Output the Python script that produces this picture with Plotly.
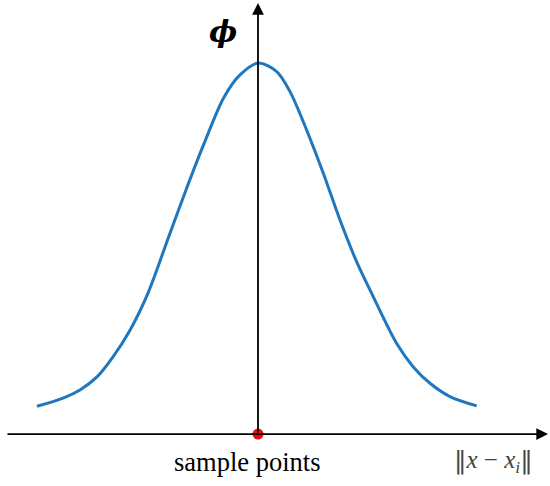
import plotly.graph_objects as go

# curve (distance, phi)
dist = [-2.21, -1.95, -1.78, -1.61, -1.45, -1.28, -1.10, -0.89, -0.72, -0.55, -0.34, -0.18, 0.0,
        0.187, 0.32, 0.487, 0.653, 0.82, 0.987, 1.153, 1.387, 1.553, 1.72, 1.92, 2.187]
phi = [0.075, 0.097, 0.119, 0.154, 0.208, 0.280, 0.380, 0.534, 0.658, 0.776, 0.908, 0.968, 1.000,
       0.977, 0.923, 0.819, 0.703, 0.577, 0.464, 0.370, 0.244, 0.181, 0.137, 0.101, 0.076]

sample_x = [0.0]
sample_y = [0.0]

fig = go.Figure()
fig.add_trace(go.Scatter(x=dist, y=phi, mode='lines',
                         line=dict(color='#1f77bf', width=3, shape='spline', smoothing=0.9),
                         hoverinfo='skip'))

# axes with arrows
fig.add_annotation(x=2.90, y=0, ax=-2.52, ay=0, xref='x', yref='y', axref='x', ayref='y',
                   showarrow=True, arrowhead=2, arrowsize=1.3, arrowwidth=1.8, arrowcolor='black', text='')
fig.add_annotation(x=0, y=1.162, ax=0, ay=0, xref='x', yref='y', axref='x', ayref='y',
                   showarrow=True, arrowhead=2, arrowsize=1.3, arrowwidth=1.8, arrowcolor='black', text='')

fig.add_trace(go.Scatter(x=sample_x, y=sample_y, mode='markers', marker=dict(color='#ff0000', size=11),
                         hoverinfo='skip'))

fig.add_annotation(x=-0.35, y=1.086, xref='x', yref='y', showarrow=False,
                   text='<b><i>ϕ</i></b>', font=dict(family='DejaVu Serif', size=30, color='black'))
fig.add_annotation(x=-0.113, y=-0.075, xref='x', yref='y', showarrow=False,
                   text='sample points', font=dict(family='Liberation Serif', size=26.5, color='black'))
fig.add_annotation(x=2.35, y=-0.072, xref='x', yref='y', showarrow=False,
                   text='<span style="font-family:DejaVu Serif">‖</span><i>x</i> − <i>x<sub>i</sub></i>'
                        '<span style="font-family:DejaVu Serif">‖</span>',
                   font=dict(family='Liberation Serif', size=25, color='#444444'))

fig.update_layout(width=550, height=486, margin=dict(l=0, r=0, t=0, b=0, autoexpand=False),
                  paper_bgcolor='white', plot_bgcolor='white', showlegend=False,
                  xaxis=dict(range=[-2.58, 2.92], visible=False, fixedrange=True),
                  yaxis=dict(range=[-0.140, 1.170], visible=False, fixedrange=True))

fig.write_html("out.html", config={'displayModeBar': False},
               post_script="document.body.style.margin='0';")
